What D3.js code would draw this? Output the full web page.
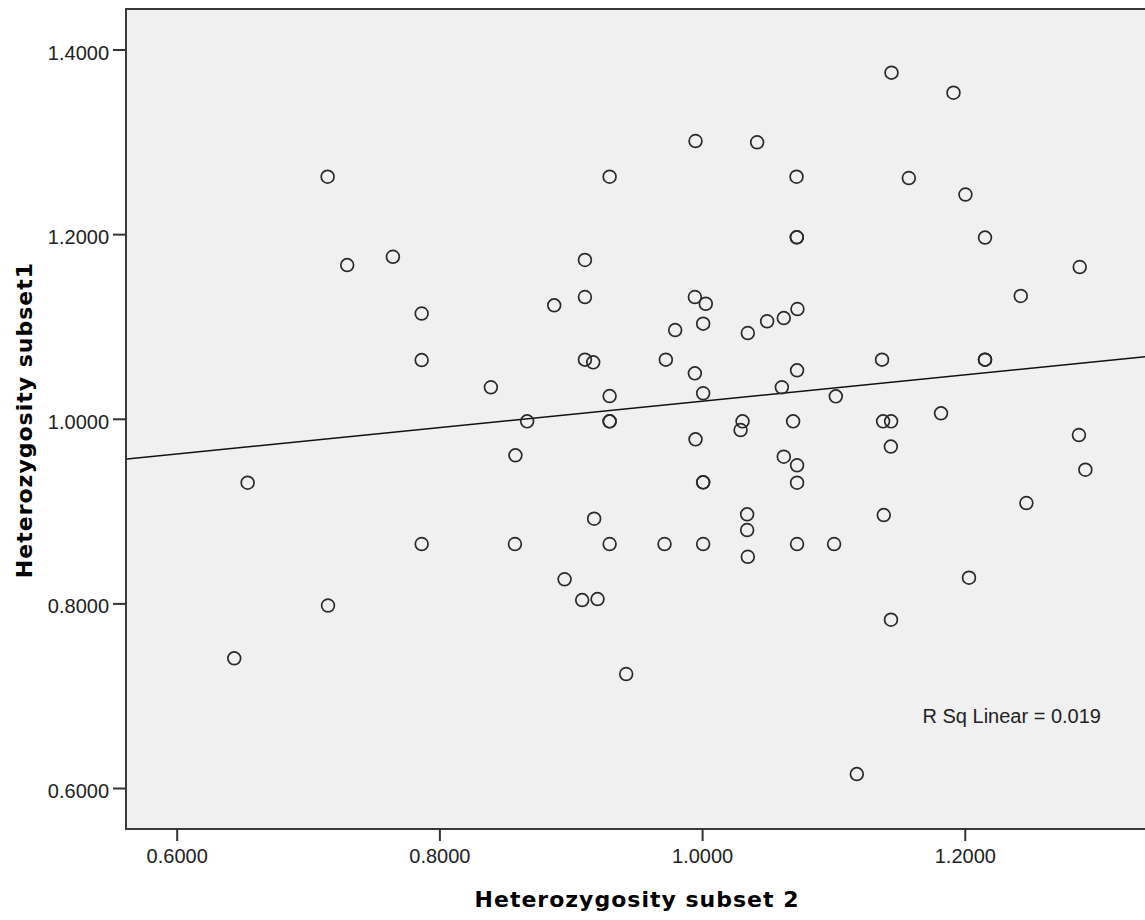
<!DOCTYPE html>
<html>
<head>
<meta charset="utf-8">
<script src="https://cdn.jsdelivr.net/npm/d3@7"></script>
<style>
  body { margin: 0; background: #fff; }
  svg { display: block; }
</style>
</head>
<body>
<div id="main"></div>
<script>
// heterozygosity values (x = subset 2, y = subset1)
var subset2 = [1.1442, 1.1914, 0.9950, 1.0419, 0.7149, 0.9296, 1.0719, 1.1574, 1.2005, 1.2154,
  1.0721, 1.0721, 0.7298, 0.7646, 0.9108, 1.2875, 0.7865, 0.9108, 0.8874, 0.9945,
  1.0028, 1.0008, 0.9795, 1.0348, 1.0495, 1.0622, 1.0726, 1.2426, 0.7865, 0.9108,
  0.9171, 0.9724, 0.9945, 1.0723, 1.1370, 1.2154, 1.2154, 0.8392, 0.9296, 1.0008,
  1.0607, 1.1018, 1.1819, 0.8668, 0.9296, 0.9296, 1.0308, 1.0293, 1.0693, 1.1378,
  1.1439, 0.9950, 1.2869, 1.1437, 0.8579, 1.0622, 1.0723, 1.2918, 0.6540, 1.0008,
  1.0008, 1.0723, 1.2469, 0.9178, 1.0343, 1.0343, 1.1383, 0.7865, 0.8575, 0.9296,
  0.9714, 1.0008, 1.0723, 1.1005, 1.0348, 1.2032, 0.8953, 0.9087, 0.9204, 0.7152,
  1.1438, 0.9422, 0.6438, 1.1178];
var subset1 = [1.3749, 1.3532, 1.3009, 1.2995, 1.2622, 1.2622, 1.2622, 1.2608, 1.2429, 1.1963,
  1.1966, 1.1966, 1.1665, 1.1755, 1.1720, 1.1644, 1.1140, 1.1319, 1.1229, 1.1319,
  1.1246, 1.1030, 1.0961, 1.0929, 1.1056, 1.1091, 1.1189, 1.1330, 1.0636, 1.0640,
  1.0611, 1.0640, 1.0492, 1.0525, 1.0640, 1.0640, 1.0640, 1.0341, 1.0246, 1.0276,
  1.0341, 1.0243, 1.0059, 0.9972, 0.9972, 0.9972, 0.9972, 0.9878, 0.9972, 0.9972,
  0.9972, 0.9777, 0.9824, 0.9699, 0.9604, 0.9589, 0.9496, 0.9448, 0.9307, 0.9311,
  0.9311, 0.9307, 0.9087, 0.8917, 0.8965, 0.8795, 0.8957, 0.8643, 0.8643, 0.8643,
  0.8643, 0.8643, 0.8643, 0.8643, 0.8505, 0.8278, 0.8261, 0.8036, 0.8047, 0.7977,
  0.7823, 0.7235, 0.7405, 0.6151];
var xTicks = [0.6, 0.8, 1.0, 1.2];
var yTicks = [0.6, 0.8, 1.0, 1.4, 1.2];
var fitIntercept = 0.8762, fitSlope = 0.1428;
var rSqText = "R Sq Linear = 0.019";
var xTitle = "Heterozygosity subset 2";
var yTitle = "Heterozygosity subset1";

var width = 1145, height = 920;
var plotLeft = 126, plotTop = 9, plotBottom = 829;

var canvas = d3.select("#main").append("svg")
  .attr("width", width)
  .attr("height", height);

var xScale = d3.scaleLinear().domain([0.5614, 1.3372]).range([plotLeft, width]);
var yScale = d3.scaleLinear().domain([0.5556, 1.4439]).range([plotBottom, plotTop]);

// plot background and frame (right edge runs off the picture)
canvas.append("rect")
  .attr("x", plotLeft)
  .attr("y", plotTop)
  .attr("width", width - plotLeft + 20)
  .attr("height", plotBottom - plotTop)
  .attr("fill", "#f0f0f0")
  .attr("stroke", "#3a3a3a")
  .attr("stroke-width", 2);

var tickFont = "'Liberation Sans', Arial, sans-serif";

var yAxis = d3.axisLeft(yScale).tickValues(yTicks).tickSize(13).tickFormat(d3.format(".4f"));
var gy = canvas.append("g")
  .attr("transform", "translate(" + plotLeft + ",0)")
  .call(yAxis);
gy.select(".domain").remove();
gy.selectAll(".tick line").attr("stroke", "#333").attr("stroke-width", 2);
gy.selectAll(".tick text")
  .attr("x", -17)
  .attr("dy", "9.5px")
  .style("font-family", tickFont)
  .style("font-size", "20px")
  .attr("fill", "#222");

var xAxis = d3.axisBottom(xScale).tickValues(xTicks).tickSize(12).tickFormat(d3.format(".4f"));
var gx = canvas.append("g")
  .attr("transform", "translate(0," + plotBottom + ")")
  .call(xAxis);
gx.select(".domain").remove();
gx.selectAll(".tick line").attr("stroke", "#333").attr("stroke-width", 2);
gx.selectAll(".tick text")
  .attr("y", 34)
  .attr("dy", 0)
  .style("font-family", tickFont)
  .style("font-size", "20px")
  .attr("fill", "#222");

// fit line, clipped to the plot
canvas.append("clipPath").attr("id", "plotClip")
  .append("rect")
  .attr("x", plotLeft + 1).attr("y", plotTop + 1)
  .attr("width", width - plotLeft).attr("height", plotBottom - plotTop - 2);

var xDom = xScale.domain();
canvas.append("line")
  .attr("clip-path", "url(#plotClip)")
  .attr("x1", xScale(xDom[0]))
  .attr("y1", yScale(fitIntercept + fitSlope * xDom[0]))
  .attr("x2", xScale(xDom[1]))
  .attr("y2", yScale(fitIntercept + fitSlope * xDom[1]))
  .attr("stroke", "#111")
  .attr("stroke-width", 1.4);

// points
canvas.append("g").selectAll("circle").data(subset2).enter().append("circle")
  .attr("cx", function(d) { return xScale(d); })
  .attr("cy", function(d, i) { return yScale(subset1[i]); })
  .attr("r", 6.4)
  .attr("fill", "none")
  .attr("stroke", "#2a2a2a")
  .attr("stroke-width", 1.7);

canvas.append("text")
  .attr("x", 922.5)
  .attr("y", 722.5)
  .style("font-family", tickFont)
  .style("font-size", "20px")
  .attr("fill", "#222")
  .text(rSqText);

// axis titles
canvas.append("text")
  .attr("x", 637)
  .attr("y", 907)
  .style("text-anchor", "middle")
  .style("font-family", "'DejaVu Sans', sans-serif")
  .style("font-weight", "bold")
  .style("font-size", "22px")
  .style("letter-spacing", "1px")
  .text(xTitle);

canvas.append("text")
  .attr("transform", "translate(32, 420) rotate(-90)")
  .style("text-anchor", "middle")
  .style("font-family", "'DejaVu Sans', sans-serif")
  .style("font-weight", "bold")
  .style("font-size", "22px")
  .style("letter-spacing", "1px")
  .text(yTitle);
</script>
</body>
</html>
